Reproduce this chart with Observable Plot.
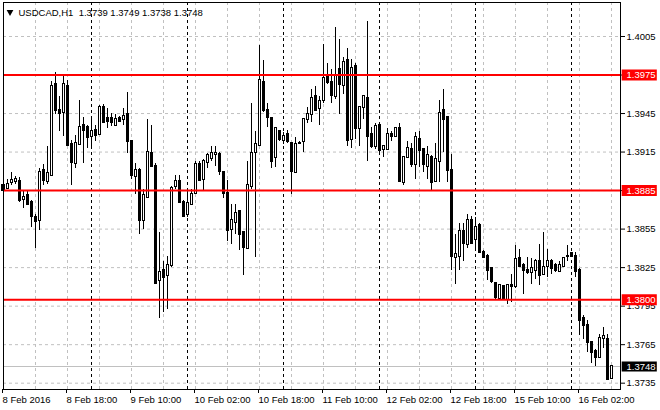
<!DOCTYPE html>
<html>
<head>
<meta charset="utf-8">
<script src="https://cdn.jsdelivr.net/npm/d3@7"></script>
<script src="https://cdn.jsdelivr.net/npm/@observablehq/plot@0.6"></script>
<style>
  html, body { margin: 0; padding: 0; background: white; }
</style>
</head>
<body>
<div id="chart"></div>
<script>
// USDCAD H1 bars, from 8 Feb 2016 02:00 (bar index 0)
const open = [
1.3885,1.3887,1.3891,1.3892,1.3892,1.3878,1.3881,1.3876,1.3864,1.3862,
1.3901,1.3892,1.3897,1.3968,1.3947,1.3946,1.3966,1.3921,1.3906,1.3921,
1.3936,1.3934,1.3927,1.3932,1.3929,1.3950,1.3941,1.3941,1.3936,1.3941,
1.3940,1.3944,1.3923,1.3896,1.3901,1.3862,1.3880,1.3914,1.3904,1.3815,
1.3823,1.3819,1.3827,1.3888,1.3892,1.3876,1.3866,1.3874,1.3883,1.3905,
1.3894,1.3907,1.3910,1.3913,1.3913,1.3899,1.3883,1.3855,1.3860,1.3869,
1.3852,1.3840,1.3888,1.3915,1.3920,1.3969,1.3947,1.3941,1.3911,1.3931,
1.3924,1.3929,1.3922,1.3899,1.3922,1.3923,1.3940,1.3944,1.3958,1.3949,
1.3955,1.3975,1.3969,1.3958,1.3979,1.3967,1.3986,1.3925,1.3982,1.3933,
1.3950,1.3957,1.3929,1.3919,1.3936,1.3917,1.3917,1.3929,1.3927,1.3933,
1.3891,1.3911,1.3917,1.3905,1.3925,1.3917,1.3904,1.3911,1.3892,1.3908,
1.3947,1.3942,1.3901,1.3833,1.3834,1.3853,1.3843,1.3862,1.3847,1.3858,
1.3837,1.3834,1.3824,1.3813,1.3801,1.3810,1.3800,1.3811,1.3810,1.3832,
1.3827,1.3823,1.3821,1.3823,1.3830,1.3820,1.3826,1.3830,1.3827,1.3822,
1.3826,1.3834,1.3836,1.3834,1.3823,1.3785,1.3780,1.3767,1.3760,1.3755,
1.3770,1.3769,1.3739];
const high = [
1.3894,1.3894,1.3899,1.3896,1.3895,1.3884,1.3884,1.3877,1.3866,1.3902,
1.3905,1.3919,1.3970,1.3977,1.3958,1.3975,1.3971,1.3924,1.3928,1.3955,
1.3942,1.3936,1.3942,1.3936,1.3951,1.3952,1.3949,1.3945,1.3944,1.3943,
1.3949,1.3961,1.3923,1.3906,1.3902,1.3886,1.3940,1.3936,1.3906,1.3852,
1.3830,1.3834,1.3888,1.3897,1.3897,1.3877,1.3884,1.3886,1.3908,1.3908,
1.3909,1.3914,1.3919,1.3919,1.3915,1.3899,1.3893,1.3874,1.3874,1.3869,
1.3852,1.3908,1.3953,1.3931,1.3998,1.3986,1.3953,1.3942,1.3934,1.3932,
1.3930,1.3932,1.3922,1.3926,1.3923,1.3940,1.3950,1.3964,1.3966,1.3958,
1.3999,1.3984,1.3979,1.4012,1.4003,1.3989,1.3996,1.3987,1.3984,1.3950,
1.3959,1.4017,1.3934,1.3937,1.3937,1.3919,1.3933,1.3931,1.3934,1.3937,
1.3911,1.3923,1.3922,1.3930,1.3931,1.3917,1.3919,1.3912,1.3922,1.3955,
1.3964,1.3943,1.3913,1.3851,1.3859,1.3859,1.3866,1.3865,1.3864,1.3859,
1.3838,1.3835,1.3825,1.3813,1.3811,1.3811,1.3811,1.3820,1.3842,1.3839,
1.3828,1.3833,1.3832,1.3831,1.3843,1.3852,1.3839,1.3831,1.3828,1.3830,
1.3833,1.3842,1.3837,1.3837,1.3824,1.3788,1.3784,1.3767,1.3761,1.3773,
1.3778,1.3773,1.3749];
const low = [
1.3883,1.3886,1.3889,1.3890,1.3876,1.3871,1.3873,1.3856,1.3840,1.3854,
1.3889,1.3890,1.3897,1.3944,1.3931,1.3927,1.3919,1.3889,1.3902,1.3920,
1.3906,1.3918,1.3917,1.3923,1.3928,1.3937,1.3933,1.3935,1.3936,1.3938,
1.3936,1.3914,1.3894,1.3882,1.3851,1.3855,1.3879,1.3903,1.3812,1.3785,
1.3790,1.3792,1.3825,1.3886,1.3875,1.3864,1.3864,1.3873,1.3882,1.3893,
1.3885,1.3902,1.3908,1.3904,1.3897,1.3879,1.3845,1.3843,1.3851,1.3838,
1.3819,1.3839,1.3886,1.3833,1.3919,1.3946,1.3934,1.3902,1.3903,1.3923,
1.3921,1.3922,1.3882,1.3898,1.3921,1.3915,1.3937,1.3938,1.3947,1.3936,
1.3953,1.3968,1.3953,1.3956,1.3944,1.3960,1.3919,1.3918,1.3925,1.3919,
1.3940,1.3908,1.3918,1.3917,1.3912,1.3911,1.3916,1.3923,1.3926,1.3891,
1.3889,1.3910,1.3903,1.3894,1.3903,1.3899,1.3894,1.3884,1.3891,1.3891,
1.3915,1.3891,1.3823,1.3812,1.3823,1.3830,1.3840,1.3843,1.3840,1.3836,
1.3832,1.3815,1.3813,1.3800,1.3800,1.3800,1.3796,1.3798,1.3809,1.3826,
1.3804,1.3820,1.3812,1.3816,1.3811,1.3820,1.3817,1.3820,1.3821,1.3821,
1.3825,1.3830,1.3833,1.3817,1.3772,1.3769,1.3759,1.3750,1.3748,1.3755,
1.3762,1.3738,1.3738];
const close = [
1.3889,1.3890,1.3893,1.3894,1.3877,1.3880,1.3874,1.3865,1.3861,1.3899,
1.3893,1.3898,1.3966,1.3947,1.3945,1.3968,1.3920,1.3907,1.3922,1.3934,
1.3932,1.3926,1.3931,1.3928,1.3950,1.3938,1.3939,1.3938,1.3940,1.3939,
1.3943,1.3923,1.3897,1.3901,1.3862,1.3881,1.3915,1.3904,1.3813,1.3821,
1.3817,1.3827,1.3887,1.3892,1.3876,1.3865,1.3875,1.3882,1.3905,1.3893,
1.3908,1.3912,1.3914,1.3914,1.3900,1.3883,1.3854,1.3862,1.3867,1.3851,
1.3841,1.3889,1.3914,1.3921,1.3971,1.3947,1.3942,1.3908,1.3933,1.3925,
1.3927,1.3923,1.3900,1.3921,1.3922,1.3940,1.3944,1.3957,1.3947,1.3954,
1.3972,1.3969,1.3959,1.3975,1.3968,1.3985,1.3924,1.3980,1.3933,1.3950,
1.3958,1.3927,1.3919,1.3935,1.3916,1.3919,1.3929,1.3927,1.3933,1.3892,
1.3911,1.3918,1.3905,1.3926,1.3916,1.3905,1.3912,1.3891,1.3909,1.3945,
1.3940,1.3901,1.3834,1.3835,1.3853,1.3844,1.3862,1.3844,1.3856,1.3837,
1.3833,1.3823,1.3814,1.3802,1.3811,1.3800,1.3811,1.3810,1.3831,1.3826,
1.3823,1.3821,1.3824,1.3830,1.3819,1.3825,1.3830,1.3824,1.3823,1.3827,
1.3832,1.3834,1.3834,1.3822,1.3784,1.3780,1.3767,1.3759,1.3755,1.3770,
1.3771,1.3738,1.3748];

const priceTicks = [1.4005, 1.3975, 1.3945, 1.3915, 1.3885, 1.3855, 1.3825, 1.3795, 1.3765, 1.3735];
const timeTickBars = [0, 16, 32, 48, 64, 80, 96, 112, 128, 144];
const timeTickLabels = ["8 Feb 2016", "8 Feb 18:00", "9 Feb 10:00", "10 Feb 02:00", "10 Feb 18:00",
  "11 Feb 10:00", "12 Feb 02:00", "12 Feb 18:00", "15 Feb 10:00", "16 Feb 02:00"];
const gridBars = [0, 8, 16, 24, 32, 40, 48, 56, 64, 72, 80, 88, 96, 104, 112, 120, 128, 136, 144, 152];
const daySeparatorBars = [22, 46, 70, 94, 118, 142];
const levels = [1.3975, 1.3885, 1.3800];
const bid = 1.3748;
const header = "USDCAD,H1\u00a0\u00a01.3739 1.3749 1.3738 1.3748";

const bars = open.map((o, i) => ({i, open: o, high: high[i], low: low[i], close: close[i]}));
const up = bars.filter(d => d.close >= d.open);
const down = bars.filter(d => d.close < d.open);

const candleOpts = {
  x1: d => d.i - 0.25, x2: d => d.i + 0.25, y1: "open", y2: "close",
  stroke: "black", insetTop: -0.5, insetBottom: -0.5, shapeRendering: "crispEdges"
};
const boxX1 = () => 154.67, boxX2 = () => 163.45;

const chart = Plot.plot({
  width: 660,
  height: 410,
  marginLeft: 3,
  marginRight: 40,
  marginTop: 2,
  marginBottom: 21,
  x: {domain: [0, 154.25], axis: null},
  y: {domain: [1.373008, 1.403148], axis: null},
  style: {fontFamily: "'Liberation Sans', Arial, sans-serif", fontSize: "9.5px", background: "white", color: "black"},
  marks: [
    Plot.ruleY(priceTicks, {stroke: "#c0c0c0", strokeDasharray: "3,3"}),
    Plot.ruleX(gridBars, {stroke: "#c0c0c0", strokeDasharray: "3,3"}),
    Plot.ruleX(daySeparatorBars, {stroke: "black", strokeDasharray: "3,3"}),
    Plot.ruleY([bid], {stroke: "#c0c0c0"}),
    Plot.ruleX(bars, {x: "i", y1: "low", y2: "high", stroke: "black", shapeRendering: "crispEdges"}),
    Plot.rect(up, {...candleOpts, fill: "white"}),
    Plot.rect(down, {...candleOpts, fill: "black"}),
    Plot.ruleY(levels, {stroke: "#ff0000", strokeWidth: 2}),
    Plot.frame({stroke: "black"}),
    Plot.axisY({anchor: "right", ticks: priceTicks, tickFormat: d => d.toFixed(4), tickSize: 4, tickPadding: 2, label: null}),
    Plot.axisX({ticks: timeTickBars, tickFormat: d => timeTickLabels[timeTickBars.indexOf(d)],
      textAnchor: "start", tickSize: 4, tickPadding: 3, dx: -1, label: null}),
    Plot.ruleY(levels, {x1: boxX1, x2: boxX2, stroke: "#ff0000", strokeWidth: 11}),
    Plot.text(levels, {y: d => d, frameAnchor: "right", dx: 6, textAnchor: "start", text: d => d.toFixed(4), fill: "white"}),
    Plot.ruleY([bid], {x1: boxX1, x2: boxX2, stroke: "black", strokeWidth: 10}),
    Plot.text([bid], {y: d => d, frameAnchor: "right", dx: 6, textAnchor: "start", text: d => d.toFixed(4), fill: "white"}),
    Plot.dot([0], {frameAnchor: "top-left", dx: 6.5, dy: 9.5, symbol: "triangle", r: 2.5, fill: "black", stroke: null, rotate: 180}),
    Plot.text([header], {frameAnchor: "top-left", dx: 15, dy: 10, textAnchor: "start", lineAnchor: "middle", text: d => d})
  ]
});
document.getElementById("chart").appendChild(chart);
</script>
</body>
</html>
